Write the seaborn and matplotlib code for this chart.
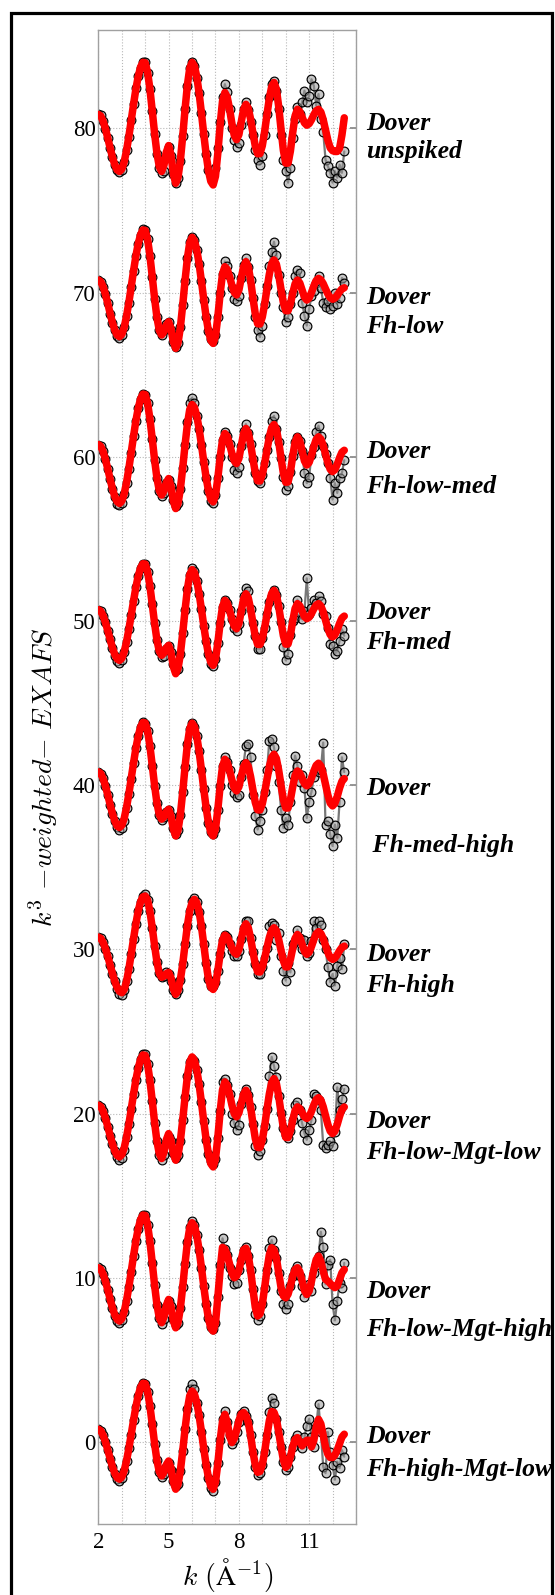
import numpy as np
import matplotlib
matplotlib.use("Agg")
import matplotlib.pyplot as plt
from matplotlib.patches import Rectangle
import seaborn as sns

# k grid (1/Angstrom) shared by data and fit
K = [2.0, 2.1, 2.2, 2.3, 2.4, 2.5, 2.6, 2.7, 2.8, 2.9,
     3.0, 3.1, 3.2, 3.3, 3.4, 3.5, 3.6, 3.7, 3.8, 3.9,
     4.0, 4.1, 4.2, 4.3, 4.4, 4.5, 4.6, 4.7, 4.8, 4.9,
     5.0, 5.1, 5.2, 5.3, 5.4, 5.5, 5.6, 5.7, 5.8, 5.9,
     6.0, 6.1, 6.2, 6.3, 6.4, 6.5, 6.6, 6.7, 6.8, 6.9,
     7.0, 7.1, 7.2, 7.3, 7.4, 7.5, 7.6, 7.7, 7.8, 7.9,
     8.0, 8.1, 8.2, 8.3, 8.4, 8.5, 8.6, 8.7, 8.8, 8.9,
     9.0, 9.1, 9.2, 9.3, 9.4, 9.5, 9.6, 9.7, 9.8, 9.9,
     10.0, 10.1, 10.2, 10.3, 10.4, 10.5, 10.6, 10.7, 10.8, 10.9,
     11.0, 11.1, 11.2, 11.3, 11.4, 11.5, 11.6, 11.7, 11.8, 11.9,
     12.0, 12.1, 12.2, 12.3, 12.4, 12.5]

OFFSETS = [80, 70, 60, 50, 40, 30, 20, 10, 0]
NAMES = ["unspiked", "Fh-low", "Fh-low-med", "Fh-med", " Fh-med-high", "Fh-high",
         "Fh-low-Mgt-low", "Fh-low-Mgt-high", "Fh-high-Mgt-low"]
LABEL_Y_TOP = [80.45, 69.85, 60.50, 50.67, 39.95, 29.84, 19.67, 9.32, 0.49]
LABEL_Y_BOT = [78.78, 68.12, 58.34, 48.84, 36.48, 27.98, 17.78, 7.00, -1.52]

FIT_80 = [0.86, 0.76, 0.45, -0.01, -0.58, -1.18, -1.75, -2.21, -2.52, -2.62,
          -2.47, -2.04, -1.35, -0.49, 0.48, 1.47, 2.40, 3.17, 3.74, 4.03,
          4.00, 3.43, 2.40, 1.07, -0.31, -1.51, -2.32, -2.62, -2.23, -1.44,
          -1.04, -1.62, -2.77, -3.34, -2.98, -1.95, -0.47, 1.16, 2.64, 3.67,
          4.03, 3.81, 3.16, 2.16, 0.94, -0.35, -1.57, -2.57, -3.22, -3.44,
          -2.91, -1.50, 0.25, 1.66, 2.19, 1.92, 1.20, 0.31, -0.41, -0.68,
          -0.37, 0.40, 1.16, 1.47, 1.23, 0.57, -0.28, -1.07, -1.54, -1.53,
          -1.05, -0.18, 0.86, 1.84, 2.55, 2.80, 2.40, 1.33, -0.06, -1.34,
          -2.11, -2.11, -1.37, -0.23, 0.77, 1.17, 1.03, 0.69, 0.34, 0.20,
          0.29, 0.53, 0.84, 1.08, 1.17, 1.00, 0.54, -0.09, -0.72, -1.18,
          -1.35, -1.40, -1.40, -1.20, -0.40, 0.65]
DATA_80 = [0.86, 0.80, 0.45, -0.05, -0.58, -1.20, -1.75, -2.25, -2.55, -2.65,
           -2.50, -2.04, -1.30, -0.49, 0.50, 1.47, 2.45, 3.17, 3.70, 4.05,
           4.05, 3.40, 2.40, 1.05, -0.31, -1.55, -2.40, -2.70, -2.60, -1.80,
           -1.10, -1.70, -2.75, -3.30, -3.00, -1.95, -0.45, 1.16, 2.60, 3.67,
           4.05, 3.81, 3.10, 2.16, 0.94, -0.35, -1.57, -2.50, -2.60, -2.50,
           -2.40, -1.20, 0.40, 1.90, 2.70, 2.20, 1.20, 0.00, -0.70, -1.10,
           -0.90, 0.20, 1.20, 1.60, 1.10, 0.40, -0.40, -1.30, -1.90, -2.20,
           -1.70, -0.40, 0.90, 1.90, 2.70, 2.90, 2.30, 1.20, -0.40, -1.90,
           -2.60, -3.30, -2.40, -0.60, 0.60, 1.30, 0.90, 1.60, 2.30, 1.60,
           2.00, 3.00, 2.60, 1.40, 2.10, 0.60, -0.20, -1.90, -2.30, -2.70,
           -3.30, -2.60, -3.00, -2.20, -2.70, -1.40]

FIT_70 = [0.77, 0.67, 0.37, -0.09, -0.65, -1.26, -1.82, -2.28, -2.58, -2.68,
          -2.54, -2.12, -1.44, -0.60, 0.35, 1.32, 2.23, 2.98, 3.53, 3.82,
          3.79, 3.25, 2.25, 0.97, -0.36, -1.51, -2.29, -2.58, -2.38, -1.97,
          -1.77, -2.18, -2.99, -3.39, -3.06, -2.12, -0.76, 0.74, 2.10, 3.04,
          3.37, 3.18, 2.61, 1.76, 0.70, -0.42, -1.48, -2.33, -2.90, -3.09,
          -2.65, -1.48, -0.03, 1.14, 1.58, 1.42, 0.99, 0.45, 0.02, -0.14,
          0.16, 0.88, 1.59, 1.89, 1.59, 0.76, -0.31, -1.30, -1.89, -1.91,
          -1.48, -0.69, 0.25, 1.13, 1.76, 1.99, 1.74, 1.07, 0.19, -0.61,
          -1.10, -1.10, -0.68, -0.03, 0.54, 0.77, 0.59, 0.16, -0.27, -0.45,
          -0.32, 0.01, 0.41, 0.74, 0.87, 0.78, 0.55, 0.23, -0.08, -0.31,
          -0.40, -0.33, -0.16, 0.06, 0.23, 0.30]
DATA_70 = [0.80, 0.67, 0.35, -0.10, -0.65, -1.30, -1.85, -2.30, -2.65, -2.75,
           -2.60, -2.12, -1.44, -0.60, 0.35, 1.32, 2.23, 2.98, 3.53, 3.85,
           3.80, 3.25, 2.25, 0.97, -0.36, -1.51, -2.29, -2.60, -2.30, -1.90,
           -1.80, -2.30, -3.00, -3.30, -3.06, -2.12, -0.76, 0.74, 2.10, 3.10,
           3.40, 3.18, 2.61, 1.76, 0.70, -0.42, -1.48, -2.33, -2.80, -2.95,
           -2.60, -1.48, -0.03, 1.14, 1.90, 1.60, 0.99, 0.30, -0.40, -0.50,
           -0.20, 0.88, 1.70, 2.10, 1.59, 0.76, -0.31, -1.50, -2.30, -2.70,
           -2.00, -0.69, 0.40, 1.60, 2.50, 3.10, 2.30, 1.07, 0.00, -0.90,
           -1.80, -1.50, -0.68, -0.03, 1.00, 1.40, 1.20, -0.60, -1.40, -2.00,
           -1.00, -0.20, 0.10, 0.60, 1.00, 0.30, -0.60, -0.90, -0.50, -1.00,
           -0.80, 0.00, -0.70, -0.30, 0.90, 0.60]

FIT_60 = [0.75, 0.64, 0.33, -0.15, -0.73, -1.36, -1.94, -2.42, -2.73, -2.84,
          -2.69, -2.26, -1.57, -0.71, 0.26, 1.25, 2.19, 2.96, 3.53, 3.82,
          3.79, 3.27, 2.31, 1.09, -0.19, -1.30, -2.05, -2.33, -2.08, -1.57,
          -1.32, -1.78, -2.69, -3.15, -2.84, -1.96, -0.68, 0.72, 1.98, 2.88,
          3.19, 3.01, 2.50, 1.71, 0.74, -0.29, -1.26, -2.05, -2.56, -2.74,
          -2.34, -1.30, 0.00, 1.02, 1.42, 1.25, 0.79, 0.22, -0.24, -0.41,
          -0.10, 0.66, 1.42, 1.73, 1.47, 0.78, -0.13, -0.96, -1.46, -1.47,
          -1.08, -0.40, 0.43, 1.21, 1.77, 1.97, 1.69, 0.92, -0.08, -1.00,
          -1.55, -1.53, -0.91, 0.05, 0.89, 1.22, 0.97, 0.36, -0.25, -0.50,
          -0.34, 0.09, 0.63, 1.06, 1.22, 1.08, 0.69, 0.16, -0.37, -0.76,
          -0.90, -0.78, -0.45, -0.05, 0.28, 0.40]
DATA_60 = [0.75, 0.64, 0.33, -0.15, -0.73, -1.36, -1.94, -2.45, -2.85, -2.95,
           -2.80, -2.26, -1.57, -0.71, 0.26, 1.25, 2.19, 2.96, 3.53, 3.82,
           3.79, 3.27, 2.31, 1.09, -0.19, -1.30, -2.05, -2.40, -2.20, -1.60,
           -1.40, -1.80, -2.60, -3.00, -2.84, -1.96, -0.68, 0.72, 2.10, 3.30,
           3.60, 3.30, 2.50, 1.71, 0.74, -0.29, -1.26, -2.05, -2.70, -2.80,
           -2.34, -1.30, 0.00, 1.02, 1.50, 1.25, 0.79, 0.00, -0.80, -1.00,
           -0.60, 0.66, 1.60, 2.00, 1.47, 0.78, -0.13, -0.96, -1.50, -1.60,
           -1.08, -0.40, 0.43, 1.21, 2.20, 2.50, 1.69, 0.92, -0.08, -1.20,
           -2.00, -1.80, -0.91, 0.05, 0.89, 1.22, 0.97, 0.36, -1.00, -1.60,
           -1.20, 0.09, 0.63, 1.50, 1.90, 1.30, 0.69, 0.16, -0.37, -1.30,
           -2.60, -1.60, -2.20, -1.30, -1.00, -0.20]

FIT_50 = [0.69, 0.60, 0.33, -0.08, -0.59, -1.12, -1.63, -2.04, -2.31, -2.40,
          -2.27, -1.89, -1.27, -0.51, 0.35, 1.22, 2.05, 2.74, 3.23, 3.49,
          3.47, 3.00, 2.13, 1.01, -0.15, -1.16, -1.84, -2.09, -1.94, -1.63,
          -1.48, -1.91, -2.78, -3.21, -2.90, -2.02, -0.74, 0.66, 1.94, 2.82,
          3.13, 2.96, 2.45, 1.67, 0.72, -0.29, -1.24, -2.02, -2.52, -2.70,
          -2.32, -1.33, -0.11, 0.88, 1.26, 1.10, 0.66, 0.13, -0.31, -0.47,
          -0.16, 0.60, 1.35, 1.66, 1.41, 0.74, -0.13, -0.94, -1.42, -1.43,
          -1.06, -0.40, 0.40, 1.14, 1.68, 1.87, 1.61, 0.89, -0.04, -0.90,
          -1.41, -1.40, -0.85, 0.01, 0.76, 1.06, 0.93, 0.60, 0.27, 0.14,
          0.23, 0.46, 0.74, 0.97, 1.06, 0.92, 0.55, 0.05, -0.46, -0.83,
          -0.97, -0.85, -0.53, -0.14, 0.18, 0.30]
DATA_50 = [0.69, 0.60, 0.33, -0.08, -0.59, -1.12, -1.63, -2.10, -2.45, -2.55,
           -2.40, -1.89, -1.27, -0.51, 0.35, 1.22, 2.05, 2.74, 3.23, 3.49,
           3.47, 3.00, 2.13, 1.01, -0.15, -1.16, -1.84, -2.20, -2.10, -1.70,
           -1.50, -1.91, -2.60, -3.00, -2.90, -2.02, -0.74, 0.66, 1.94, 2.82,
           3.20, 3.05, 2.45, 1.67, 0.72, -0.29, -1.24, -2.02, -2.60, -2.75,
           -2.32, -1.33, -0.11, 0.88, 1.30, 1.10, 0.66, 0.13, -0.40, -0.60,
           -0.16, 0.60, 1.50, 2.00, 1.80, 0.74, -0.13, -0.94, -1.70, -1.70,
           -1.06, -0.40, 0.40, 1.14, 1.50, 1.87, 1.61, 0.89, -0.04, -1.60,
           -2.40, -2.00, -0.85, 0.01, 0.20, 1.30, 0.50, 0.10, 0.60, 2.60,
           0.40, 0.80, 1.30, 1.10, 1.50, 1.20, 0.40, 0.30, -0.40, -1.40,
           -1.50, -2.00, -1.80, -1.20, -0.50, -0.90]

FIT_40 = [0.81, 0.71, 0.41, -0.04, -0.59, -1.18, -1.73, -2.18, -2.48, -2.58,
          -2.44, -2.03, -1.36, -0.53, 0.40, 1.35, 2.25, 2.99, 3.54, 3.82,
          3.79, 3.30, 2.38, 1.20, -0.02, -1.09, -1.80, -2.07, -1.92, -1.61,
          -1.46, -1.87, -2.68, -3.09, -2.75, -1.80, -0.42, 1.11, 2.49, 3.44,
          3.78, 3.57, 2.98, 2.06, 0.94, -0.25, -1.37, -2.29, -2.88, -3.09,
          -2.65, -1.48, -0.03, 1.14, 1.58, 1.40, 0.91, 0.32, -0.17, -0.35,
          -0.10, 0.52, 1.13, 1.38, 1.15, 0.52, -0.30, -1.05, -1.50, -1.51,
          -1.13, -0.45, 0.37, 1.14, 1.69, 1.89, 1.63, 0.91, -0.02, -0.88,
          -1.39, -1.39, -0.88, -0.09, 0.60, 0.87, 0.74, 0.42, 0.09, -0.04,
          0.09, 0.44, 0.86, 1.21, 1.34, 1.17, 0.69, 0.04, -0.61, -1.09,
          -1.26, -1.10, -0.69, -0.17, 0.24, 0.40]
DATA_40 = [0.81, 0.71, 0.41, -0.04, -0.59, -1.18, -1.73, -2.18, -2.55, -2.70,
           -2.60, -2.20, -1.36, -0.53, 0.40, 1.35, 2.25, 2.99, 3.54, 3.82,
           3.70, 3.30, 2.38, 1.20, -0.02, -1.09, -1.80, -2.10, -1.92, -1.61,
           -1.50, -1.90, -2.60, -3.00, -2.75, -1.80, -0.42, 1.11, 2.49, 3.44,
           3.78, 3.57, 2.98, 2.06, 0.94, -0.25, -1.37, -2.29, -2.88, -3.00,
           -2.65, -1.48, -0.03, 1.14, 1.70, 1.40, 0.91, 0.00, -0.50, -0.70,
           -0.60, 0.52, 1.30, 2.40, 2.50, 1.70, -0.60, -1.90, -2.70, -2.20,
           -1.50, -0.40, 0.90, 2.70, 2.80, 2.30, 1.20, 0.20, -1.50, -2.60,
           -2.00, -2.40, -1.00, 0.60, 1.80, 1.20, 0.20, 0.60, -0.20, -2.00,
           -1.00, -0.40, 0.50, 0.90, 0.80, 0.90, 2.60, -2.40, -2.20, -3.00,
           -3.70, -2.40, -3.20, -1.00, 1.70, 0.80]

FIT_30 = [0.75, 0.67, 0.43, 0.05, -0.42, -0.95, -1.47, -1.94, -2.32, -2.56,
          -2.64, -2.45, -1.95, -1.20, -0.30, 0.65, 1.55, 2.35, 2.90, 3.20,
          3.25, 3.01, 2.32, 1.32, 0.23, -0.77, -1.46, -1.70, -1.63, -1.48,
          -1.40, -1.74, -2.41, -2.74, -2.50, -1.85, -0.90, 0.30, 1.45, 2.35,
          2.85, 3.05, 2.85, 2.30, 1.40, 0.30, -0.85, -1.80, -2.30, -2.44,
          -2.13, -1.30, -0.27, 0.56, 0.87, 0.76, 0.47, 0.10, -0.19, -0.30,
          -0.03, 0.63, 1.29, 1.56, 1.32, 0.69, -0.14, -0.90, -1.36, -1.38,
          -1.08, -0.54, 0.11, 0.72, 1.16, 1.32, 1.13, 0.60, -0.07, -0.70,
          -1.07, -1.06, -0.61, 0.07, 0.67, 0.91, 0.73, 0.31, -0.12, -0.30,
          -0.17, 0.18, 0.60, 0.95, 1.08, 0.97, 0.66, 0.24, -0.19, -0.50,
          -0.61, -0.53, -0.33, -0.08, 0.12, 0.20]
DATA_30 = [0.75, 0.67, 0.43, 0.05, -0.42, -0.95, -1.47, -1.94, -2.40, -2.70,
           -2.75, -2.50, -1.95, -1.20, -0.30, 0.65, 1.55, 2.35, 2.90, 3.25,
           3.35, 3.01, 2.32, 1.32, 0.23, -0.77, -1.46, -1.70, -1.60, -1.40,
           -1.50, -1.90, -2.50, -2.70, -2.50, -1.85, -0.90, 0.30, 1.45, 2.35,
           2.95, 3.15, 2.90, 2.30, 1.40, 0.30, -0.85, -1.80, -2.20, -2.20,
           -2.00, -1.30, -0.27, 0.56, 0.87, 0.76, 0.30, -0.10, -0.40, -0.40,
           -0.10, 0.63, 1.29, 1.70, 1.70, 0.69, -0.14, -0.90, -1.50, -1.50,
           -1.08, -0.54, 0.11, 1.40, 1.60, 1.50, 0.60, 1.00, -0.40, -1.30,
           -1.90, -0.80, -1.40, 0.30, 0.50, 1.20, 0.70, 0.00, 0.60, -0.40,
           -0.20, 0.50, 1.70, 1.30, 1.70, 1.50, 0.60, 0.00, -1.10, -2.00,
           -1.50, -2.20, -1.00, -0.50, -1.20, 0.30]

FIT_20 = [0.51, 0.42, 0.14, -0.28, -0.79, -1.34, -1.85, -2.27, -2.55, -2.64,
          -2.50, -2.10, -1.45, -0.65, 0.25, 1.18, 2.05, 2.77, 3.30, 3.57,
          3.54, 3.01, 2.02, 0.77, -0.55, -1.69, -2.45, -2.74, -2.36, -1.60,
          -1.22, -1.63, -2.44, -2.84, -2.53, -1.66, -0.39, 1.00, 2.27, 3.14,
          3.45, 3.25, 2.67, 1.78, 0.68, -0.48, -1.58, -2.47, -3.05, -3.25,
          -2.76, -1.46, 0.14, 1.44, 1.93, 1.73, 1.20, 0.53, 0.00, -0.20,
          0.04, 0.61, 1.18, 1.42, 1.14, 0.38, -0.61, -1.52, -2.06, -2.07,
          -1.60, -0.76, 0.26, 1.20, 1.89, 2.13, 1.84, 1.06, 0.05, -0.89,
          -1.45, -1.46, -1.04, -0.39, 0.18, 0.41, 0.31, 0.06, -0.20, -0.30,
          -0.18, 0.14, 0.53, 0.85, 0.97, 0.82, 0.42, -0.13, -0.67, -1.07,
          -1.22, -1.07, -0.66, -0.16, 0.25, 0.40]
DATA_20 = [0.55, 0.42, 0.14, -0.28, -0.79, -1.34, -1.85, -2.30, -2.65, -2.80,
           -2.70, -2.20, -1.45, -0.65, 0.25, 1.18, 2.05, 2.77, 3.30, 3.65,
           3.60, 3.01, 2.02, 0.77, -0.55, -1.69, -2.50, -2.85, -2.50, -1.80,
           -1.40, -1.70, -2.40, -2.70, -2.53, -1.66, -0.39, 1.00, 2.27, 3.14,
           3.30, 3.20, 2.67, 1.78, 0.68, -0.48, -1.58, -2.47, -2.90, -3.10,
           -2.76, -1.46, 0.14, 1.90, 2.10, 1.73, 1.20, 0.00, -0.60, -1.00,
           -0.70, 0.61, 1.18, 1.50, 1.14, 0.38, -0.61, -2.00, -2.50, -2.30,
           -1.60, -0.76, 0.26, 2.30, 3.45, 2.90, 2.20, 1.06, 0.05, -0.89,
           -1.30, -1.46, -1.04, -0.39, 0.50, 0.70, 0.20, -0.60, -1.20, -1.60,
           -1.00, -0.40, 1.20, 1.10, 0.80, 0.20, -1.90, -2.10, -1.90, -1.70,
           -2.00, -1.10, 1.60, 0.20, 0.90, 1.50]

FIT_10 = [0.61, 0.51, 0.23, -0.20, -0.73, -1.30, -1.83, -2.26, -2.54, -2.64,
          -2.50, -2.08, -1.40, -0.57, 0.37, 1.33, 2.24, 2.99, 3.54, 3.82,
          3.79, 3.23, 2.21, 0.90, -0.46, -1.64, -2.44, -2.74, -2.39, -1.68,
          -1.32, -1.75, -2.62, -3.05, -2.74, -1.85, -0.56, 0.86, 2.15, 3.04,
          3.35, 3.15, 2.58, 1.70, 0.62, -0.52, -1.60, -2.48, -3.05, -3.25,
          -2.76, -1.20, 0.50, 1.85, 1.75, 1.40, 0.85, 0.30, 0.00, 0.10,
          0.45, 1.10, 1.70, 1.80, 1.35, 0.45, -0.70, -1.80, -2.33, -2.20,
          -1.60, -0.60, 0.50, 1.40, 1.83, 1.70, 1.20, 0.30, -0.60, -1.10,
          -1.22, -1.00, -0.50, 0.10, 0.50, 0.61, 0.37, -0.20, -0.78, -1.02,
          -0.80, -0.21, 0.51, 1.10, 1.32, 1.00, 0.40, -0.10, -0.20, -0.35,
          -0.50, -0.60, -0.50, -0.10, 0.30, 0.50]
DATA_10 = [0.65, 0.51, 0.23, -0.20, -0.73, -1.30, -1.83, -2.30, -2.65, -2.75,
           -2.60, -2.10, -1.40, -0.57, 0.37, 1.33, 2.24, 2.99, 3.54, 3.85,
           3.80, 3.23, 2.21, 0.90, -0.46, -1.64, -2.44, -2.80, -2.50, -1.80,
           -1.40, -1.75, -2.50, -2.90, -2.74, -1.85, -0.56, 0.86, 2.15, 3.10,
           3.45, 3.20, 2.58, 1.70, 0.62, -0.52, -1.60, -2.48, -3.00, -3.15,
           -2.76, -1.20, 0.80, 2.40, 1.75, 1.40, 0.60, 0.10, -0.40, -0.30,
           0.45, 1.10, 1.70, 1.90, 1.35, 0.45, -0.70, -2.20, -2.60, -2.30,
           -1.60, -0.60, 0.50, 1.80, 2.30, 1.70, 1.20, 0.30, -0.80, -1.60,
           -1.90, -1.60, -0.50, 0.10, 0.50, 0.70, 0.10, -0.50, -1.20, -0.80,
           -0.40, -0.80, 0.30, 0.80, 1.30, 2.80, 1.90, -0.40, 0.80, 1.10,
           -1.60, -2.60, -1.40, -0.30, -0.60, 0.90]

FIT_0 = [0.77, 0.68, 0.41, 0.01, -0.49, -1.01, -1.51, -1.91, -2.18, -2.27,
         -2.14, -1.76, -1.15, -0.40, 0.45, 1.32, 2.14, 2.82, 3.32, 3.57,
         3.55, 3.07, 2.19, 1.07, -0.11, -1.13, -1.81, -2.07, -1.84, -1.39,
         -1.16, -1.59, -2.45, -2.88, -2.59, -1.76, -0.55, 0.77, 1.98, 2.81,
         3.10, 2.92, 2.40, 1.61, 0.63, -0.41, -1.39, -2.18, -2.70, -2.88,
         -2.45, -1.31, 0.11, 1.25, 1.68, 1.20, 0.40, -0.04, 0.20, 0.70,
         1.30, 1.70, 1.79, 1.60, 1.20, 0.40, -0.60, -1.40, -1.85, -1.80,
         -1.40, -0.60, 0.40, 1.30, 1.85, 1.80, 1.40, 0.60, -0.30, -1.10,
         -1.55, -1.40, -0.90, -0.30, 0.15, 0.26, 0.00, -0.24, -0.05, 0.10,
         0.10, -0.30, 0.10, 0.90, 1.38, 1.10, 0.40, -0.30, -0.75, -0.95,
         -0.95, -0.80, -0.50, -0.10, 0.30, 0.47]
DATA_0 = [0.80, 0.68, 0.41, 0.01, -0.49, -1.01, -1.51, -1.95, -2.25, -2.35,
          -2.20, -1.76, -1.15, -0.40, 0.45, 1.32, 2.14, 2.82, 3.32, 3.60,
          3.55, 3.07, 2.19, 1.07, -0.11, -1.13, -1.81, -2.15, -1.95, -1.50,
          -1.30, -1.70, -2.40, -2.70, -2.59, -1.76, -0.55, 0.77, 1.98, 3.20,
          3.50, 3.20, 2.40, 1.61, 0.63, -0.41, -1.39, -2.18, -2.80, -3.00,
          -2.45, -1.31, 0.11, 1.40, 1.90, 1.20, 0.40, -0.10, 0.10, 0.60,
          1.20, 1.70, 1.90, 1.60, 1.20, 0.40, -0.60, -1.50, -2.00, -1.90,
          -1.40, -0.60, 0.40, 1.80, 2.70, 2.40, 1.40, 0.60, -0.30, -1.20,
          -1.70, -1.50, -0.90, -0.30, 0.15, 0.40, 0.00, -0.40, 0.30, 1.00,
          1.40, 0.30, -0.30, 0.90, 2.30, 0.60, -1.50, -1.90, 0.60, -0.60,
          -1.40, -2.30, -1.20, -1.60, -0.50, -0.90]

FITS = [FIT_80, FIT_70, FIT_60, FIT_50, FIT_40, FIT_30, FIT_20, FIT_10, FIT_0]
DATAS = [DATA_80, DATA_70, DATA_60, DATA_50, DATA_40, DATA_30, DATA_20, DATA_10, DATA_0]

sns.set_theme(style="white")
plt.rcParams['font.family'] = ['Liberation Serif', 'DejaVu Serif']
plt.rcParams['mathtext.fontset'] = 'cm'
plt.rcParams['text.color'] = 'black'
plt.rcParams['axes.labelcolor'] = 'black'
plt.rcParams['xtick.color'] = 'black'
plt.rcParams['ytick.color'] = 'black'

fig = plt.figure(figsize=(5.55, 15.95), dpi=100)
ax = fig.add_axes([0.1773, 0.0445, 0.4641, 0.9367])

k = np.array(K)
for off, fit, dat in zip(OFFSETS, FITS, DATAS):
    sns.lineplot(x=k, y=np.array(dat) + off, ax=ax, sort=False, estimator=None,
                 color='#777777', lw=1.6, marker='o', markersize=6.3,
                 markerfacecolor=(0.6, 0.6, 0.6, 0.55), markeredgecolor='black',
                 markeredgewidth=0.85, zorder=2)
    sns.lineplot(x=k, y=np.array(fit) + off, ax=ax, sort=False, estimator=None,
                 color='#ff0000', lw=5.4, zorder=3)

ax.set_xlim(2, 13)
ax.set_ylim(-5, 86)
ax.set_xticks([2, 5, 8, 11])
ax.set_xticks(range(2, 14), minor=True)
ax.set_yticks(OFFSETS)
ax.grid(True, which='both', axis='x', ls=':', color='#b8b8b8', lw=0.8)
ax.grid(True, which='major', axis='y', ls=':', color='#b8b8b8', lw=0.8)
ax.tick_params(axis='both', which='major', direction='in', length=4, color='#888888',
               labelsize=16.5, top=False, right=True, labelcolor='black')
ax.tick_params(axis='x', which='major', pad=6)
ax.tick_params(axis='y', which='major', pad=2)
ax.tick_params(axis='both', which='minor', length=0)
for sp in ax.spines.values():
    sp.set_color('#a0a0a0')
    sp.set_linewidth(1.0)

ax.set_xlabel(r'$k\ (\mathrm{\AA}^{-1})$', fontsize=20, labelpad=2)
ax.set_ylabel(r'$k^3\ {-}weighted{-}\ EXAFS$', fontsize=20)
ax.yaxis.set_label_coords(-0.15, 0.5)

for name, yt, yb in zip(NAMES, LABEL_Y_TOP, LABEL_Y_BOT):
    ax.text(1.039, yt, "Dover", transform=ax.get_yaxis_transform(), fontsize=18.5,
            fontweight='bold', fontstyle='italic', va='center_baseline', ha='left',
            color='black', clip_on=False)
    ax.text(1.039, yb, name, transform=ax.get_yaxis_transform(), fontsize=18.5,
            fontweight='bold', fontstyle='italic', va='center_baseline', ha='left',
            color='black', clip_on=False)

# outer frame around the whole panel
fig.patches.append(Rectangle((11 / 555, -0.02), (552 - 11) / 555, 1 - 12.5 / 1595 + 0.02,
                             transform=fig.transFigure, fill=False, ec='black', lw=2.3))

fig.savefig('out.png', dpi=100)
